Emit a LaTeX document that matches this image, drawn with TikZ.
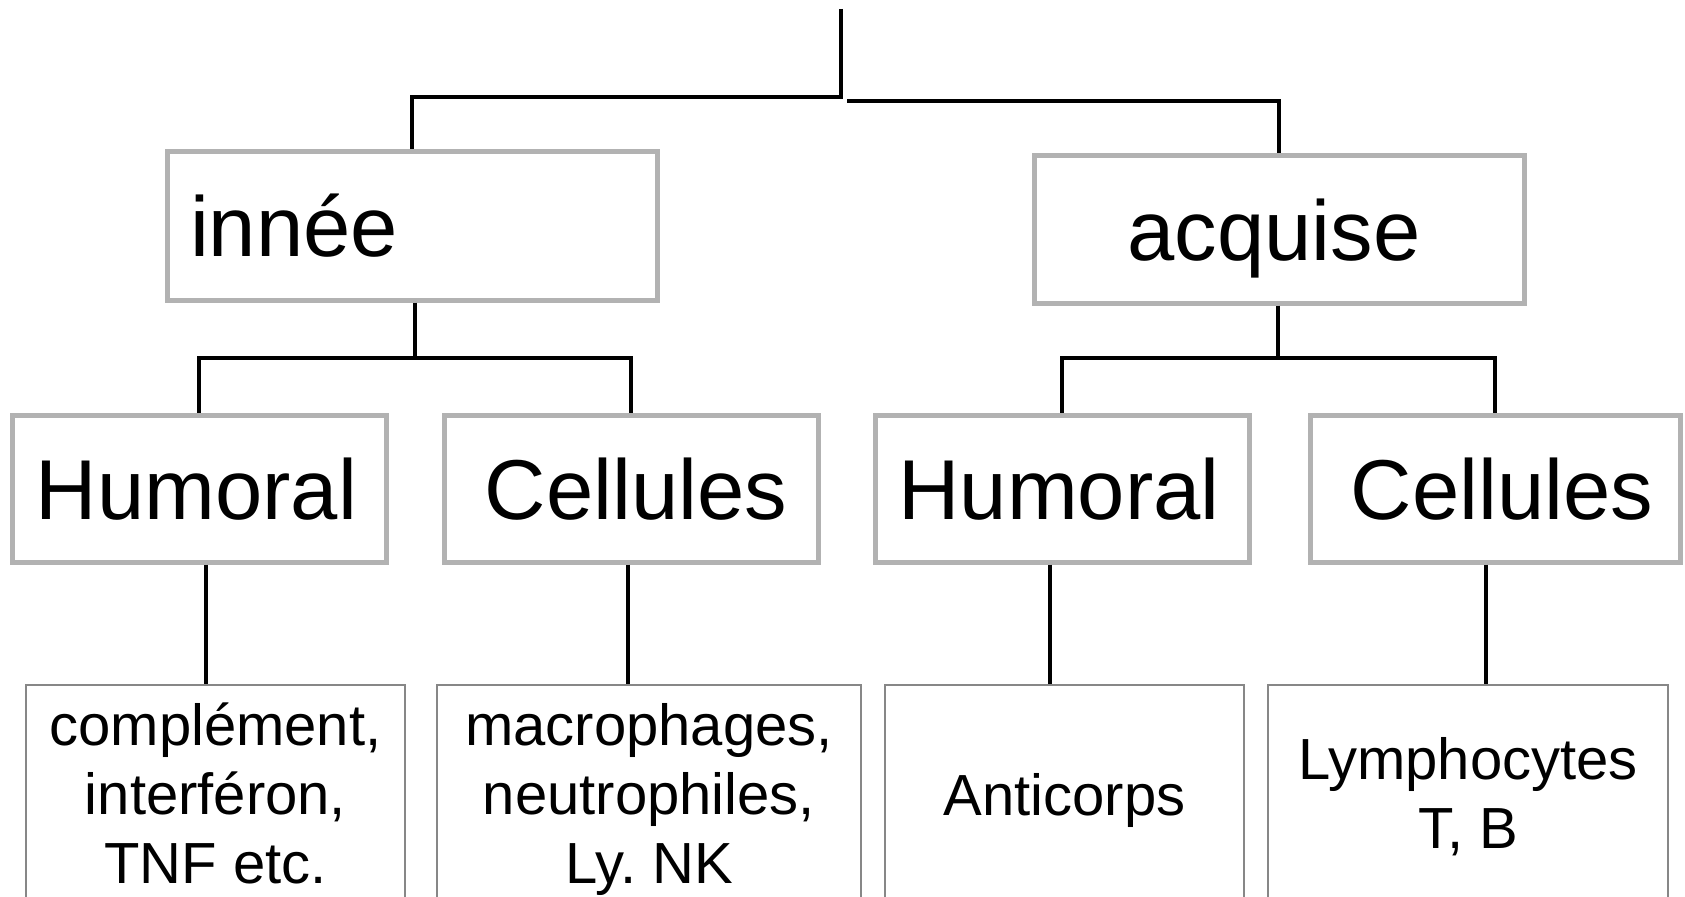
\documentclass[tikz,border=0pt]{standalone}
\usepackage{fontspec}
\setmainfont{Liberation Sans}
\begin{document}
\frenchspacing
\begin{tikzpicture}[x=1pt,y=-1pt,
  topbox/.style={draw=black!30, line width=5pt, fill=white, inner sep=0pt,
     text height=61pt, text depth=0pt, font=\fontsize{85}{100}\selectfont},
  leafbox/.style={draw=black!47, line width=2.5pt, inner sep=0pt},
  leaftext/.style={align=center, inner sep=0pt, text depth=0pt, anchor=base,
     font=\fontsize{58}{69}\selectfont},
  conn/.style={line width=4.5pt, draw=black}]
\useasboundingbox (0,0) rectangle (1685,896);
% level 1
\node[topbox, minimum width=490pt, minimum height=148pt, text width=444pt, align=left, inner xsep=23pt]
  (innee) at (412,226) {innée};
\node[topbox, minimum width=490pt, minimum height=147pt, text width=490pt, align=center] (acquise) at (1279,229.5) {\hspace*{-10pt}acquise};
% level 2
\node[topbox, minimum width=374pt, minimum height=147pt, text width=374pt, align=center] (h1) at (199,488.5) {\hspace*{-5pt}Humoral};
\node[topbox, minimum width=374pt, minimum height=147pt, text width=374pt, align=center] (c1) at (631,488.5) {\hspace*{10pt}Cellules};
\node[topbox, minimum width=374pt, minimum height=147pt, text width=374pt, align=center] (h2) at (1062,488.5) {\hspace*{-6pt}Humoral};
\node[topbox, minimum width=370pt, minimum height=147pt, text width=370pt, align=center] (c2) at (1495,488.5) {\hspace*{14pt}Cellules};
% level 3
\node[leafbox, minimum width=379pt, minimum height=220pt] (l1) at (215.5,795) {};
\node[leafbox, minimum width=424pt, minimum height=220pt] (l2) at (649,795) {};
\node[leafbox, minimum width=359pt, minimum height=220pt] (l3) at (1064.5,795) {};
\node[leafbox, minimum width=400pt, minimum height=220pt] (l4) at (1468,795) {};
\node[leaftext] (t1) at (215.5,883) {complément,\\interféron,\\TNF etc.};
\node[leaftext] (t2) at (649,883) {macrophages,\\neutrophiles,\\Ly. NK};
\node[leaftext] (t3) at (1064.5,815) {Anticorps};
\node[leaftext] (t4) at (1468,848) {Lymphocytes\\T, B};
% connectors
\coordinate (root) at (841,9);
\coordinate (jl) at (841,97);
\coordinate (jr) at (847,101);
\draw[conn] (root) -- (jl) -| (innee.north);
\draw[conn] (jr) -| (acquise.north);
\coordinate (ji) at (415,358);
\coordinate (ja) at (1278,358);
\draw[conn] (innee.south -| ji) -- (ji);
\draw[conn] (h1.north) |- (ji) -| (c1.north);
\draw[conn] (acquise.south -| ja) -- (ja);
\draw[conn] (h2.north) |- (ja) -| (c2.north);
\coordinate (x1) at (206,0);
\coordinate (x2) at (628,0);
\coordinate (x3) at (1050,0);
\coordinate (x4) at (1486,0);
\draw[conn] (h1.south -| x1) -- (l1.north -| x1);
\draw[conn] (c1.south -| x2) -- (l2.north -| x2);
\draw[conn] (h2.south -| x3) -- (l3.north -| x3);
\draw[conn] (c2.south -| x4) -- (l4.north -| x4);
\end{tikzpicture}
\end{document}
